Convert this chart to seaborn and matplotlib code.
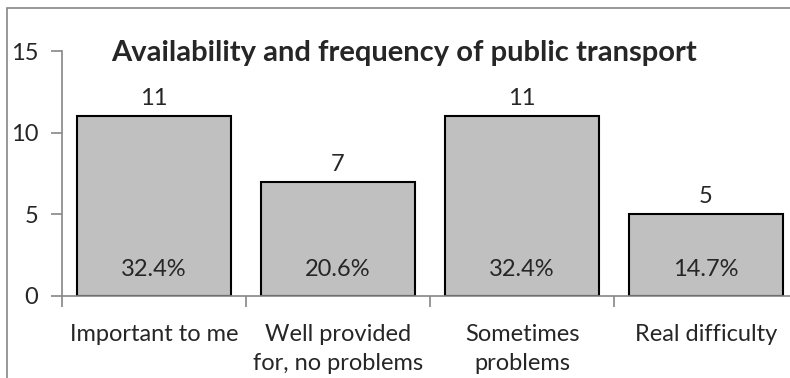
import numpy as np
import matplotlib
matplotlib.use("Agg")
import matplotlib.pyplot as plt
import seaborn as sns
from matplotlib.patches import Rectangle

# --------------------------- data ---------------------------
categories = ["Important to me", "Well provided\nfor, no problems", "Sometimes\nproblems", "Real difficulty"]
counts = [11, 7, 11, 5]
percents = ["32.4%", "20.6%", "32.4%", "14.7%"]
title = "Availability and frequency of public transport"

# --------------------------- style ---------------------------
sns.set_theme(style="white")
plt.rcParams["font.family"] = ["Lato", "DejaVu Sans"]
axis_grey = "#868686"

fig = plt.figure(figsize=(7.9, 3.78), dpi=100)
ax = fig.add_axes([62 / 790, 1 - 296 / 378, 736 / 790, 245 / 378])

sns.barplot(x=categories, y=counts, ax=ax, color="#C0C0C0", width=0.84,
            edgecolor="black", linewidth=1.5, saturation=1)

ax.set_ylim(0, 15)
ax.set_xlim(-0.5, len(categories) - 0.5)
ax.set_yticks([0, 5, 10, 15])
ax.set_xlabel("")
ax.set_ylabel("")

for s in ["top", "right"]:
    ax.spines[s].set_visible(False)
for s in ["left", "bottom"]:
    ax.spines[s].set_color(axis_grey)
    ax.spines[s].set_linewidth(1.2)

ax.tick_params(axis="y", which="major", length=8, width=1.2, color=axis_grey,
               labelsize=17, pad=9, left=True)
ax.tick_params(axis="x", which="major", length=0, labelsize=17, pad=20)
for lbl in ax.get_xticklabels():
    lbl.set_linespacing(1.5)
ax.set_xticks(np.arange(len(categories) + 1) - 0.5, minor=True)
ax.tick_params(axis="x", which="minor", length=8, width=1.2, color=axis_grey, bottom=True)

# value labels above bars, percentages inside near the base
for i, (c, p) in enumerate(zip(counts, percents)):
    ax.annotate(str(c), (i, c), xytext=(0, 5), textcoords="offset points",
                ha="center", va="bottom", fontsize=17)
    ax.text(i, 1.65, p, ha="center", va="center", fontsize=17)

ax.text(0.465, 0.99, title, transform=ax.transAxes, ha="center", va="center",
        fontsize=21, fontweight="bold")

# chart border (only top/left visible in the crop)
fig.patches.append(Rectangle((7 / 790, -0.1), 1.2, 1 - 8 / 378 + 0.1,
                             transform=fig.transFigure, fill=False,
                             edgecolor=axis_grey, linewidth=1.2))

plt.savefig("out.png", dpi=100)
